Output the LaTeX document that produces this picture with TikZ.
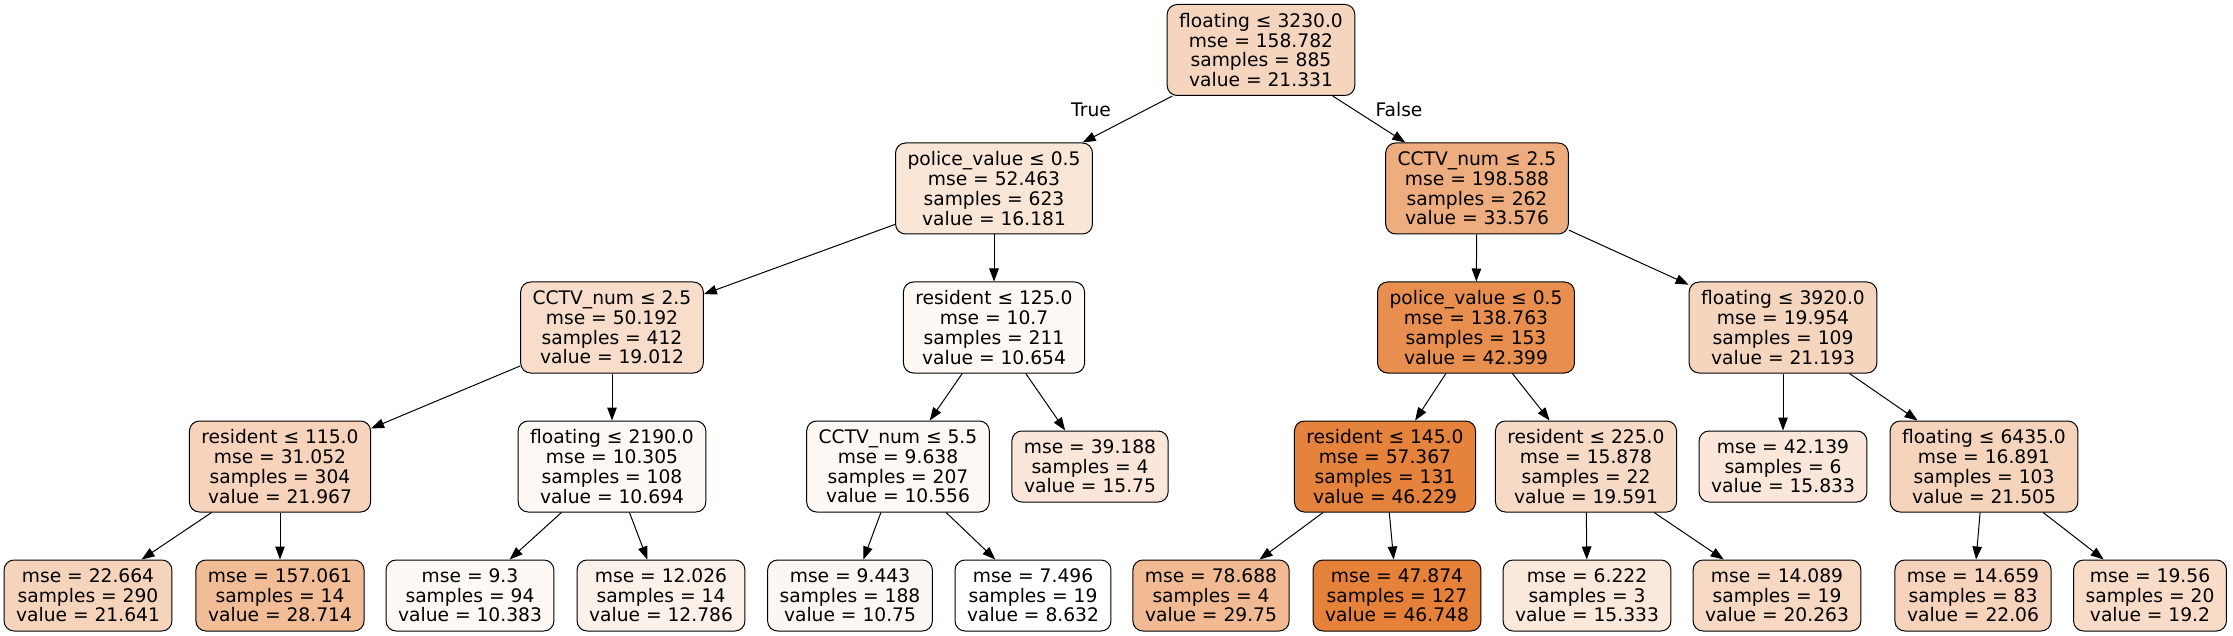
\documentclass[tikz,border=0pt]{standalone}
\usepackage{fontspec}
\setmainfont{DejaVu Sans}
\usetikzlibrary{arrows.meta}
\definecolor{tor}{RGB}{229,129,57}

\tikzstyle{b} = [align=center, rectangle, draw, text centered, rounded corners=10pt, line width=1pt, inner xsep=12pt, minimum height=91pt, font=\fontsize{18.67}{19.7}\selectfont]
\tikzstyle{lf} = [b, minimum height=71pt]
\tikzstyle{lbl} = [font=\fontsize{18.67}{19.7}\selectfont]

\begin{document}
\begin{tikzpicture}[x=1pt, y=1pt, line width=1pt, >={Triangle[length=13pt,width=9.5pt]}]
\useasboundingbox (0,0) rectangle (2233,-636);

\node [b, fill=tor!33!white] (n0) at (1261,-50) {floating ≤ 3230.0\\mse = 158.782\\samples = 885\\value = 21.331};
\node [b, fill=tor!20!white] (n1) at (994,-188.5) {police\_value ≤ 0.5\\mse = 52.463\\samples = 623\\value = 16.181};
\node [b, fill=tor!65!white] (n14) at (1477,-188.5) {CCTV\_num ≤ 2.5\\mse = 198.588\\samples = 262\\value = 33.576};

\node [b, fill=tor!27!white] (n2) at (612,-327.5) {CCTV\_num ≤ 2.5\\mse = 50.192\\samples = 412\\value = 19.012};
\node [b, fill=tor!5!white] (n9) at (994,-327.5) {resident ≤ 125.0\\mse = 10.7\\samples = 211\\value = 10.654};
\node [b, fill=tor!89!white] (n15) at (1476,-327.5) {police\_value ≤ 0.5\\mse = 138.763\\samples = 153\\value = 42.399};
\node [b, fill=tor!33!white] (n22) at (1783,-327.5) {floating ≤ 3920.0\\mse = 19.954\\samples = 109\\value = 21.193};

\node [b, fill=tor!35!white] (n3) at (280,-466.5) {resident ≤ 115.0\\mse = 31.052\\samples = 304\\value = 21.967};
\node [b, fill=tor!5!white] (n6) at (612,-466.5) {floating ≤ 2190.0\\mse = 10.305\\samples = 108\\value = 10.694};
\node [b, fill=tor!5!white] (n10) at (898,-466.5) {CCTV\_num ≤ 5.5\\mse = 9.638\\samples = 207\\value = 10.556};
\node [lf, fill=tor!19!white] (n13) at (1090,-466.5) {mse = 39.188\\samples = 4\\value = 15.75};
\node [b, fill=tor!99!white] (n16) at (1385,-466.5) {resident ≤ 145.0\\mse = 57.367\\samples = 131\\value = 46.229};
\node [b, fill=tor!29!white] (n19) at (1586,-466.5) {resident ≤ 225.0\\mse = 15.878\\samples = 22\\value = 19.591};
\node [lf, fill=tor!19!white] (n23) at (1783,-466.5) {mse = 42.139\\samples = 6\\value = 15.833};
\node [b, fill=tor!34!white] (n24) at (1984,-466.5) {floating ≤ 6435.0\\mse = 16.891\\samples = 103\\value = 21.505};

\node [lf, fill=tor!34!white] (n4) at (88,-595.5) {mse = 22.664\\samples = 290\\value = 21.641};
\node [lf, fill=tor!53!white] (n5) at (280,-595.5) {mse = 157.061\\samples = 14\\value = 28.714};
\node [lf, fill=tor!5!white] (n7) at (470,-595.5) {mse = 9.3\\samples = 94\\value = 10.383};
\node [lf, fill=tor!11!white] (n8) at (661,-595.5) {mse = 12.026\\samples = 14\\value = 12.786};
\node [lf, fill=tor!6!white] (n11) at (850,-595.5) {mse = 9.443\\samples = 188\\value = 10.75};
\node [lf, fill=white] (n12) at (1033,-595.5) {mse = 7.496\\samples = 19\\value = 8.632};
\node [lf, fill=tor!55!white] (n17) at (1211,-595.5) {mse = 78.688\\samples = 4\\value = 29.75};
\node [lf, fill=tor] (n18) at (1397,-595.5) {mse = 47.874\\samples = 127\\value = 46.748};
\node [lf, fill=tor!18!white] (n20) at (1587,-595.5) {mse = 6.222\\samples = 3\\value = 15.333};
\node [lf, fill=tor!31!white] (n21) at (1777,-595.5) {mse = 14.089\\samples = 19\\value = 20.263};
\node [lf, fill=tor!35!white] (n25) at (1973,-595.5) {mse = 14.659\\samples = 83\\value = 22.06};
\node [lf, fill=tor!28!white] (n26) at (2150,-595.5) {mse = 19.56\\samples = 20\\value = 19.2};

\node [lbl] (t) at (1091,-110) {True};
\node [lbl] (f) at (1399,-110) {False};

\draw [->] (n0) -- (n1);
\draw [->] (n0) -- (n14);
\draw [->] (n1) -- (n2);
\draw [->] (n1) -- (n9);
\draw [->] (n2) -- (n3);
\draw [->] (n2) -- (n6);
\draw [->] (n3) -- (n4);
\draw [->] (n3) -- (n5);
\draw [->] (n6) -- (n7);
\draw [->] (n6) -- (n8);
\draw [->] (n9) -- (n10);
\draw [->] (n9) -- (n13);
\draw [->] (n10) -- (n11);
\draw [->] (n10) -- (n12);
\draw [->] (n14) -- (n15);
\draw [->] (n14) -- (n22);
\draw [->] (n15) -- (n16);
\draw [->] (n15) -- (n19);
\draw [->] (n16) -- (n17);
\draw [->] (n16) -- (n18);
\draw [->] (n19) -- (n20);
\draw [->] (n19) -- (n21);
\draw [->] (n22) -- (n23);
\draw [->] (n22) -- (n24);
\draw [->] (n24) -- (n25);
\draw [->] (n24) -- (n26);
\end{tikzpicture}
\end{document}
